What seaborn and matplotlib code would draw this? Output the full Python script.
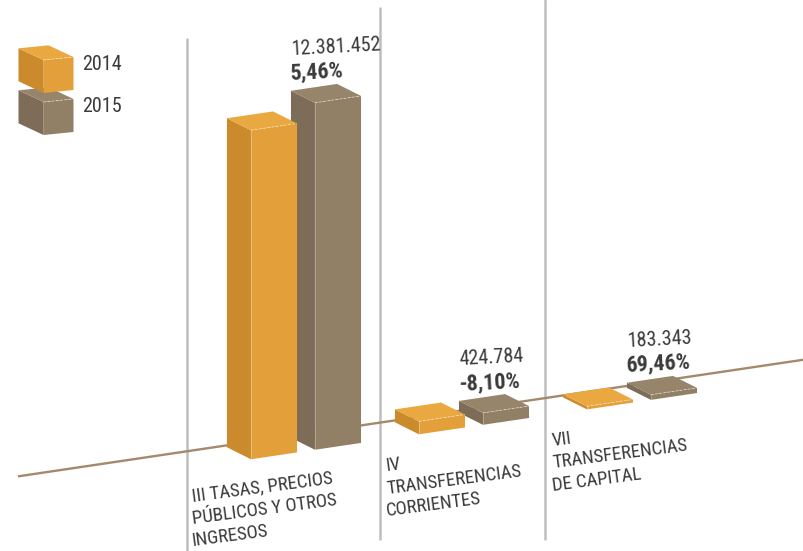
import numpy as np
import pandas as pd
import matplotlib
matplotlib.use("Agg")
import matplotlib.pyplot as plt
from matplotlib.patches import Polygon
from matplotlib.lines import Line2D
from matplotlib.transforms import Affine2D, IdentityTransform
import seaborn as sns

# ---------------- data ----------------
cat_keys = ["III", "IV", "VII"]
cat_labels = [["III TASAS, PRECIOS", "PÚBLICOS Y OTROS", "INGRESOS"],
              ["IV", "TRANSFERENCIAS", "CORRIENTES"],
              ["VII", "TRANSFERENCIAS", "DE CAPITAL"]]
years = ["2014", "2015"]
values_2014 = [11740000, 462200, 108200]
values_2015 = [12381452, 424784, 183343]
value_labels = ["12.381.452", "424.784", "183.343"]
change_labels = ["5,46%", "-8,10%", "69,46%"]

# ---------------- style ----------------
FRONT = {"2014": "#E3A03A", "2015": "#928066"}
SIDE = {"2014": "#CB8B2D", "2015": "#7D6C57"}
TOP = {"2014": "#E9A940", "2015": "#97856B"}
TXT = "#3A3A3A"

W, H = 804, 551
sns.set_style("white")
plt.rcParams['font.family'] = ['Roboto Condensed', 'Liberation Sans Narrow', 'DejaVu Sans']
plt.rcParams['font.stretch'] = 'condensed'

fig = plt.figure(figsize=(W / 100, H / 100), dpi=100)
ax = fig.add_axes([0, 0, 1, 1])

df = pd.DataFrame({"cat": cat_keys * 2,
                   "year": ["2014"] * 3 + ["2015"] * 3,
                   "value": values_2014 + values_2015})

sns.barplot(data=df, x="cat", y="value", hue="year", order=cat_keys,
            hue_order=years, palette=[FRONT["2014"], FRONT["2015"]],
            width=0.762, gap=0.28, saturation=1, errorbar=None,
            linewidth=0, legend=False, ax=ax)
ax.set_axis_off()

# scale: pixels per category and per value unit (perspective layout)
XC0, XS = 306.0, 168.0
K = 2.8026e-5
Y0 = 451.1
SLOPE = 0.1485
ax.set_xlim(-XC0 / XS, (W - XC0) / XS)
ax.set_ylim((Y0 - H) / K, Y0 / K)

s = SLOPE * XS / K
shear = Affine2D(np.array([[1, 0, 0], [s, 1, 0], [0, 0, 1.0]]))
T_img = Affine2D().scale(1, -1).translate(0, H)  # image pixel coords -> display

# ground line (behind the boxes)
ax.plot([-(XC0 - 18) / XS, (W - XC0 + 5) / XS], [17.5 / K, 17.5 / K],
        color="#A48A6C", lw=1.7, transform=shear + ax.transData,
        zorder=1, solid_capstyle="butt", clip_on=False)

# separators
for x, y0, y1 in [(187, 39, 551), (380, 8, 539), (545, 0, 539)]:
    ax.add_line(Line2D([x, x], [y0, y1], color="#BEBEC0", lw=1.8,
                       transform=T_img, zorder=0.5))

D = np.array([-24.0, 12.0])

patches = list(ax.patches)
year_of = {}
for i, p in enumerate(patches):
    year_of[id(p)] = years[i // len(cat_keys)]
    p.set_transform(shear + ax.transData)

def draw_box(verts, yr, z, trans):
    bl, br, tr, tl = verts[:4]
    side = [bl, tl, tl + D, bl + D]
    top = [tl, tr, tr + D, tl + D]
    ax.add_patch(Polygon(side, closed=True, facecolor=SIDE[yr], edgecolor="none",
                         transform=trans, zorder=z - 0.01, clip_on=False))
    ax.add_patch(Polygon(top, closed=True, facecolor=TOP[yr], edgecolor="none",
                         transform=trans, zorder=z - 0.01, clip_on=False))
    ax.add_line(Line2D([tl[0], tr[0]], [tl[1], tr[1]], color="white", alpha=0.55,
                       lw=0.6, ls=(0, (3, 2)), transform=trans, zorder=z + 0.01))
    ax.add_line(Line2D([bl[0], tl[0]], [bl[1], tl[1]], color="white", alpha=0.4,
                       lw=0.5, transform=trans, zorder=z + 0.01))

info = []
for p in patches:
    v = p.get_verts()[:4]
    info.append((v[0][0], p, v))
info.sort(key=lambda t: -t[0])
for rank, (_, p, v) in enumerate(info):
    z = 2 + rank * 0.1
    p.set_zorder(z)
    draw_box(v, year_of[id(p)], z, IdentityTransform())

# value labels anchored to the 2015 boxes
bars2015 = patches[len(cat_keys):]
for p, num, pct in zip(bars2015, value_labels, change_labels):
    v = p.get_verts()
    corner = v[3] + D
    ax.text(corner[0], corner[1] + 11, pct, transform=IdentityTransform(),
            fontsize=16, fontweight="bold", color=TXT, ha="left", va="baseline",
            rotation=3, rotation_mode="anchor", zorder=10)
    ax.text(corner[0], corner[1] + 36, num, transform=IdentityTransform(),
            fontsize=14.5, color=TXT, ha="left", va="baseline",
            rotation=3, rotation_mode="anchor", zorder=10)

# category labels (one text per line, left edges aligned)
for (x, y), lines in zip([(193, 501), (387, 471), (553, 446)], cat_labels):
    for j, line in enumerate(lines):
        ax.text(x, y + 22.5 * j, line, transform=T_img, fontsize=13.5, color=TXT,
                ha="left", va="baseline", rotation=7.5, rotation_mode="anchor",
                zorder=10)

# legend cubes
Dl = np.array([-25.0, 11.7])
for yr, ytop, ybase in [("2015", 102, 112), ("2014", 60, 70)]:
    tl = np.array([43.5, H - ytop])
    tr = np.array([73.5, H - ytop + 3])
    bl = np.array([43.5, H - ytop - 33])
    br = np.array([73.5, H - ytop - 30])
    ax.add_patch(Polygon([bl, br, tr, tl], closed=True, facecolor=FRONT[yr],
                         edgecolor="none", transform=IdentityTransform(), zorder=5))
    side = [bl, tl, tl + Dl, bl + Dl]
    top = [tl, tr, tr + Dl, tl + Dl]
    ax.add_patch(Polygon(side, closed=True, facecolor=SIDE[yr], edgecolor="none",
                         transform=IdentityTransform(), zorder=5))
    ax.add_patch(Polygon(top, closed=True, facecolor=TOP[yr], edgecolor="none",
                         transform=IdentityTransform(), zorder=5))
    ax.add_line(Line2D([tl[0], tr[0]], [tl[1], tr[1]], color="white", alpha=0.55,
                       lw=0.6, ls=(0, (3, 2)), transform=IdentityTransform(), zorder=5.1))
    ax.text(82, ybase, yr, transform=T_img, fontsize=14.5, color=TXT,
            ha="left", va="baseline", zorder=10)

fig.savefig("out.png", dpi=100)
